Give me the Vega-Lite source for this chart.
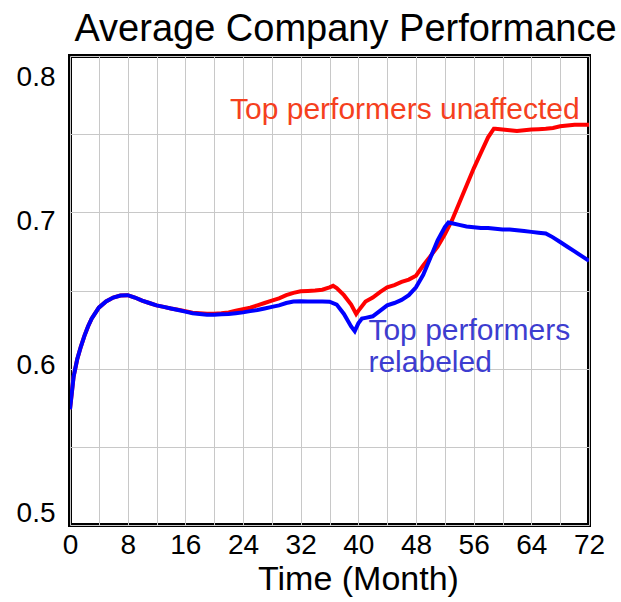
{
  "$schema": "https://vega.github.io/schema/vega-lite/v6.json",
  "autosize": "none",
  "width": 519,
  "height": 469,
  "padding": {"left": 70, "top": 56, "right": 32, "bottom": 77},
  "background": "white",
  "config": {
    "font": "Liberation Sans",
    "view": {"stroke": "black", "strokeWidth": 4},
    "title": {"font": "Liberation Sans", "fontSize": 38, "fontWeight": "normal", "color": "black"}
  },
  "title": {"text": "Average Company Performance", "offset": 7, "dx": 16},
  "datasets": {
    "relabeled": [
      {"t": 0, "v": 0.574}, {"t": 0.5, "v": 0.595}, {"t": 1, "v": 0.606}, {"t": 1.5, "v": 0.614},
      {"t": 2, "v": 0.621}, {"t": 2.5, "v": 0.627}, {"t": 3, "v": 0.632}, {"t": 4, "v": 0.639},
      {"t": 5, "v": 0.643}, {"t": 6, "v": 0.6455}, {"t": 7, "v": 0.6468}, {"t": 8, "v": 0.647},
      {"t": 9, "v": 0.6455}, {"t": 10, "v": 0.6435}, {"t": 11, "v": 0.642}, {"t": 12, "v": 0.6405},
      {"t": 13, "v": 0.6395}, {"t": 14, "v": 0.6385}, {"t": 15, "v": 0.6375}, {"t": 16, "v": 0.6365},
      {"t": 17, "v": 0.6355}, {"t": 18, "v": 0.635}, {"t": 19, "v": 0.6345}, {"t": 20, "v": 0.6345},
      {"t": 21, "v": 0.6348}, {"t": 22, "v": 0.635}, {"t": 23, "v": 0.6355}, {"t": 24, "v": 0.636},
      {"t": 25, "v": 0.6368}, {"t": 26, "v": 0.6375}, {"t": 27, "v": 0.6385}, {"t": 28, "v": 0.6395},
      {"t": 29, "v": 0.6405}, {"t": 30, "v": 0.642}, {"t": 31, "v": 0.643}, {"t": 32, "v": 0.6432},
      {"t": 33, "v": 0.643}, {"t": 34, "v": 0.643}, {"t": 35, "v": 0.643}, {"t": 36, "v": 0.6428},
      {"t": 37, "v": 0.641}, {"t": 38, "v": 0.635}, {"t": 39, "v": 0.627}, {"t": 39.5, "v": 0.624},
      {"t": 40, "v": 0.629}, {"t": 40.5, "v": 0.632}, {"t": 41, "v": 0.6325}, {"t": 42, "v": 0.6335},
      {"t": 43, "v": 0.637}, {"t": 44, "v": 0.6405}, {"t": 45, "v": 0.642}, {"t": 46, "v": 0.644},
      {"t": 47, "v": 0.647}, {"t": 48, "v": 0.652}, {"t": 49, "v": 0.66}, {"t": 50, "v": 0.671},
      {"t": 51, "v": 0.682}, {"t": 52, "v": 0.6905}, {"t": 52.5, "v": 0.6935}, {"t": 53, "v": 0.693},
      {"t": 54, "v": 0.692}, {"t": 55, "v": 0.691}, {"t": 56, "v": 0.6905}, {"t": 57, "v": 0.690},
      {"t": 58, "v": 0.690}, {"t": 59, "v": 0.6895}, {"t": 60, "v": 0.689}, {"t": 61, "v": 0.689},
      {"t": 62, "v": 0.6885}, {"t": 63, "v": 0.688}, {"t": 64, "v": 0.6875}, {"t": 65, "v": 0.687},
      {"t": 66, "v": 0.6865}, {"t": 67, "v": 0.684}, {"t": 68, "v": 0.681}, {"t": 69, "v": 0.678},
      {"t": 70, "v": 0.675}, {"t": 71, "v": 0.672}, {"t": 72, "v": 0.669}
    ],
    "unaffected": [
      {"t": 0, "v": 0.574}, {"t": 0.5, "v": 0.595}, {"t": 1, "v": 0.606}, {"t": 1.5, "v": 0.614},
      {"t": 2, "v": 0.621}, {"t": 2.5, "v": 0.627}, {"t": 3, "v": 0.632}, {"t": 4, "v": 0.639},
      {"t": 5, "v": 0.643}, {"t": 6, "v": 0.6455}, {"t": 7, "v": 0.6468}, {"t": 8, "v": 0.647},
      {"t": 9, "v": 0.6455}, {"t": 10, "v": 0.6435}, {"t": 11, "v": 0.642}, {"t": 12, "v": 0.6405},
      {"t": 13, "v": 0.6395}, {"t": 14, "v": 0.6385}, {"t": 15, "v": 0.6377}, {"t": 16, "v": 0.6368},
      {"t": 17, "v": 0.6358}, {"t": 18, "v": 0.6355}, {"t": 19, "v": 0.6352}, {"t": 20, "v": 0.6352},
      {"t": 21, "v": 0.6355}, {"t": 22, "v": 0.636}, {"t": 23, "v": 0.637}, {"t": 24, "v": 0.638},
      {"t": 25, "v": 0.639}, {"t": 26, "v": 0.6405}, {"t": 27, "v": 0.642}, {"t": 28, "v": 0.6435},
      {"t": 29, "v": 0.645}, {"t": 30, "v": 0.647}, {"t": 31, "v": 0.6485}, {"t": 32, "v": 0.6495},
      {"t": 33, "v": 0.6497}, {"t": 34, "v": 0.65}, {"t": 35, "v": 0.6505}, {"t": 36, "v": 0.652},
      {"t": 36.5, "v": 0.653}, {"t": 37, "v": 0.6515}, {"t": 38, "v": 0.647}, {"t": 39, "v": 0.641},
      {"t": 39.7, "v": 0.635}, {"t": 40, "v": 0.637}, {"t": 41, "v": 0.643}, {"t": 42, "v": 0.6455},
      {"t": 43, "v": 0.649}, {"t": 44, "v": 0.652}, {"t": 45, "v": 0.6535}, {"t": 46, "v": 0.6555},
      {"t": 47, "v": 0.657}, {"t": 48, "v": 0.6595}, {"t": 49, "v": 0.666}, {"t": 50, "v": 0.672},
      {"t": 51, "v": 0.678}, {"t": 52, "v": 0.686}, {"t": 53, "v": 0.695}, {"t": 54, "v": 0.706},
      {"t": 55, "v": 0.717}, {"t": 56, "v": 0.728}, {"t": 57, "v": 0.738}, {"t": 58, "v": 0.748},
      {"t": 58.8, "v": 0.7535}, {"t": 59, "v": 0.7535}, {"t": 60, "v": 0.753}, {"t": 61, "v": 0.7525},
      {"t": 62, "v": 0.752}, {"t": 63, "v": 0.7525}, {"t": 64, "v": 0.753}, {"t": 65, "v": 0.7532},
      {"t": 66, "v": 0.7535}, {"t": 67, "v": 0.754}, {"t": 68, "v": 0.755}, {"t": 69, "v": 0.7555},
      {"t": 70, "v": 0.756}, {"t": 71, "v": 0.756}, {"t": 72, "v": 0.756}
    ],
    "labelRed": [{"t": 22.2, "v": 0.7656, "label": "Top performers unaffected"}],
    "labelBlue": [{"t": 41.4, "v": 0.624, "label": "Top performers"}, {"t": 41.4, "v": 0.6035, "label": "relabeled"}]
  },
  "encoding": {
    "x": {
      "field": "t", "type": "quantitative",
      "scale": {"domain": [0, 72], "nice": false, "zero": false},
      "axis": {
        "title": "Time (Month)", "titleFontSize": 34, "titleFontWeight": "normal", "titleColor": "black",
        "titleFont": "Liberation Sans", "titlePadding": 3, "titleX": 288,
        "values": [0,4,8,12,16,20,24,28,32,36,40,44,48,52,56,60,64,68,72],
        "labelExpr": "datum.value % 8 == 0 ? datum.label : ''",
        "labelFontSize": 28, "labelColor": "black", "labelPadding": 6, "labelFlush": false,
        "ticks": false, "domain": false,
        "grid": true, "gridColor": "#c8c8c8", "gridWidth": 1
      }
    },
    "y": {
      "field": "v", "type": "quantitative",
      "scale": {"domain": [0.5, 0.8], "nice": false, "zero": false},
      "axis": {
        "title": null,
        "values": [0.5, 0.55, 0.6, 0.65, 0.7, 0.75, 0.8],
        "labelExpr": "(round(datum.value*100) % 10 == 0) ? format(datum.value, '.1f') : ''",
        "labelFontSize": 28, "labelColor": "black", "labelPadding": 15, "labelFlush": false,
        "labelOffset": {"condition": [
          {"test": "datum.value > 0.79", "value": 21},
          {"test": "datum.value > 0.69", "value": 9},
          {"test": "datum.value > 0.59", "value": -3}
        ], "value": -12},
        "ticks": false, "domain": false,
        "grid": true, "gridColor": "#c8c8c8", "gridWidth": 1
      }
    }
  },
  "layer": [
    {"data": {"name": "unaffected"}, "mark": {"type": "line", "color": "#ff0000", "strokeWidth": 4, "clip": true}},
    {"data": {"name": "relabeled"}, "mark": {"type": "line", "color": "#0000ff", "strokeWidth": 4, "clip": true}},
    {"data": {"name": "labelRed"}, "mark": {"type": "text", "align": "left", "baseline": "middle", "fontSize": 30, "color": "#f5401e", "font": "Liberation Sans"}, "encoding": {"text": {"field": "label"}}},
    {"data": {"name": "labelBlue"}, "mark": {"type": "text", "align": "left", "baseline": "middle", "fontSize": 30, "color": "#3d3dd0", "font": "Liberation Sans"}, "encoding": {"text": {"field": "label"}}}
  ]
}
